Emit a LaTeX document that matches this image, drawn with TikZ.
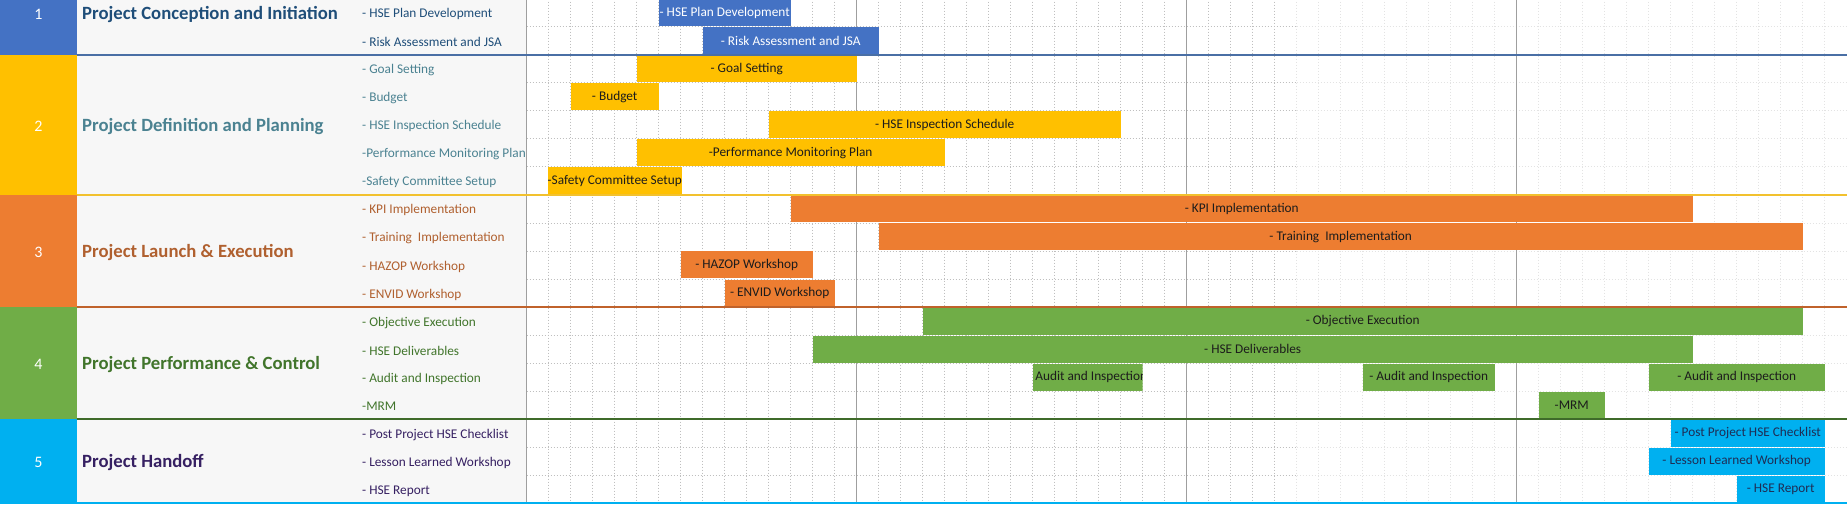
\documentclass[tikz,border=0pt]{standalone}
\usepackage{fontspec}
\setmainfont{Carlito}
\definecolor{phaseblue}{HTML}{4472C4}
\definecolor{phasegold}{HTML}{FFC000}
\definecolor{phaseorange}{HTML}{ED7D31}
\definecolor{phasegreen}{HTML}{70AD47}
\definecolor{phasecyan}{HTML}{00B0F0}
\definecolor{textblue}{HTML}{1F4E79}
\definecolor{textteal}{HTML}{4B8291}
\definecolor{textbrown}{HTML}{B0602F}
\definecolor{textgreen}{HTML}{41752B}
\definecolor{textpurple}{HTML}{362062}
\definecolor{lineblue}{HTML}{4A6FA5}
\definecolor{linegold}{HTML}{F2C12E}
\definecolor{linebrown}{HTML}{C0622B}
\definecolor{linegreen}{HTML}{3F6B2A}
\definecolor{panelgray}{HTML}{F7F7F7}
\definecolor{bardark}{HTML}{1C1C1C}
\definecolor{barnavy}{HTML}{1F2D55}

\begin{document}
\begin{tikzpicture}[x=1pt, y=-28.05pt,
    phasenum/.style={inner sep=0pt, yshift=-1.5pt, text=white,
      font=\fontsize{16}{19}\selectfont},
    phasename/.style={anchor=west, inner sep=0pt, yshift=-1.5pt,
      font=\bfseries\fontsize{18.7}{22}\selectfont},
    task/.style={anchor=west, inner sep=0pt, yshift=-1.5pt,
      font=\fontsize{13.3}{16}\selectfont},
    bar/.style={rectangle, inner sep=0pt, minimum height=27pt,
      minimum width=#1*22pt, font=\fontsize{13.3}{16}\selectfont},
    planbar/.style={bar=#1, fill=phaseblue, text=white},
    defbar/.style={bar=#1, fill=phasegold, text=bardark},
    launchbar/.style={bar=#1, fill=phaseorange, text=bardark},
    perfbar/.style={bar=#1, fill=phasegreen, text=bardark},
    handbar/.style={bar=#1, fill=phasecyan, text=barnavy},
    minorgrid/.style={gray!50, line width=0.7pt, dash pattern=on 1pt off 2pt},
    fadegrid/.style={gray!22, line width=0.7pt, dash pattern=on 1pt off 2pt},
    majorgrid/.style={gray!75, line width=1pt},
    divider/.style={line width=2pt}
  ]
    \useasboundingbox (0,0.0535) rectangle (1847,18.093);

    % Fondo
    \fill[panelgray] (76.7,0) rectangle (526.7,18);
    \fill[phaseblue] (0,0) rectangle (76.7,2);
    \fill[phasegold] (0,2) rectangle (76.7,7);
    \fill[phaseorange] (0,7) rectangle (76.7,11);
    \fill[phasegreen] (0,11) rectangle (76.7,15);
    \fill[phasecyan] (0,15) rectangle (76.7,18);

    % Rejilla
    \begin{scope}[shift={(526.7,0)}, x=22pt]
      \foreach \c in {1,...,34} \draw[minorgrid] (\c,0) -- (\c,18);
      \foreach \c in {35,...,59} \draw[fadegrid] (\c,0) -- (\c,18);
      \foreach \r in {1,...,17} {
        \draw[minorgrid] (0,\r) -- (35,\r);
        \draw[fadegrid] (35,\r) -- (60,\r);
      }
      \foreach \c in {0,15,30,45} \draw[majorgrid] (\c,0) -- (\c,18);

      % Barras
      \node[planbar=6] (bPlan) at (9,0.5) {- HSE Plan Development};
      \node[planbar=8] (bRisk) at (12,1.5) {- Risk Assessment and JSA};
      \node[defbar=10] (bGoal) at (10,2.5) {- Goal Setting};
      \node[defbar=4] (bBudget) at (4,3.5) {- Budget};
      \node[defbar=16] (bInspection) at (19,4.5) {- HSE Inspection Schedule};
      \node[defbar=14] (bMonitoring) at (12,5.5) {-Performance Monitoring Plan};
      \node[defbar=6] (bSafety) at (4,6.5) {-Safety Committee Setup};
      \node[launchbar=41] (bKpi) at (32.5,7.5) {- KPI Implementation};
      \node[launchbar=42] (bTraining) at (37,8.5) {- Training~ Implementation};
      \node[launchbar=6] (bHazop) at (10,9.5) {- HAZOP Workshop};
      \node[launchbar=5] (bEnvid) at (11.5,10.5) {- ENVID Workshop};
      \node[perfbar=40] (bObjective) at (38,11.5) {- Objective Execution};
      \node[perfbar=40] (bDeliverables) at (33,12.5) {- HSE Deliverables};
      \begin{scope}
        \clip (23,13) rectangle (28,14);
        \node[perfbar=5] (bAuditA) at (25.5,13.5)
          {\makebox[0pt]{- Audit and Inspection}};
      \end{scope}
      \node[perfbar=6] (bAuditB) at (41,13.5) {- Audit and Inspection};
      \node[perfbar=8] (bAuditC) at (55,13.5) {- Audit and Inspection};
      \node[perfbar=3] (bMrm) at (47.5,14.5) {-MRM};
      \node[handbar=7] (bChecklist) at (55.5,15.5) {- Post Project HSE Checklist};
      \node[handbar=8] (bLesson) at (55,16.5) {- Lesson Learned Workshop};
      \node[handbar=4] (bReport) at (57,17.5) {- HSE Report};
    \end{scope}

    % Fases
    \node[phasenum] (num1) at (38.35,0.5) {1};
    \node[phasenum] (num2) at (38.35,4.5) {2};
    \node[phasenum] (num3) at (38.35,9) {3};
    \node[phasenum] (num4) at (38.35,13) {4};
    \node[phasenum] (num5) at (38.35,16.5) {5};
    \node[phasename, text=textblue] (conception) at (82,0.5)
      {Project Conception and Initiation};
    \node[phasename, text=textteal] (definition) at (82,4.5)
      {Project Definition and Planning};
    \node[phasename, text=textbrown] (launch) at (82,9)
      {Project Launch \& Execution};
    \node[phasename, text=textgreen] (performance) at (82,13)
      {Project Performance \& Control};
    \node[phasename, text=textpurple] (handoff) at (82,16.5)
      {Project Handoff};

    % Tareas
    \node[task, text=textblue] (tPlan) at (362,0.5) {- HSE Plan Development};
    \node[task, text=textblue] (tRisk) at (362,1.5) {- Risk Assessment and JSA};
    \node[task, text=textteal] (tGoal) at (362,2.5) {- Goal Setting};
    \node[task, text=textteal] (tBudget) at (362,3.5) {- Budget};
    \node[task, text=textteal] (tInspection) at (362,4.5) {- HSE Inspection Schedule};
    \node[task, text=textteal] (tMonitoring) at (362,5.5) {-Performance Monitoring Plan};
    \node[task, text=textteal] (tSafety) at (362,6.5) {-Safety Committee Setup};
    \node[task, text=textbrown] (tKpi) at (362,7.5) {- KPI Implementation};
    \node[task, text=textbrown] (tTraining) at (362,8.5) {- Training~ Implementation};
    \node[task, text=textbrown] (tHazop) at (362,9.5) {- HAZOP Workshop};
    \node[task, text=textbrown] (tEnvid) at (362,10.5) {- ENVID Workshop};
    \node[task, text=textgreen] (tObjective) at (362,11.5) {- Objective Execution};
    \node[task, text=textgreen] (tDeliverables) at (362,12.5) {- HSE Deliverables};
    \node[task, text=textgreen] (tAudit) at (362,13.5) {- Audit and Inspection};
    \node[task, text=textgreen] (tMrm) at (362,14.5) {-MRM};
    \node[task, text=textpurple] (tChecklist) at (362,15.5) {- Post Project HSE Checklist};
    \node[task, text=textpurple] (tLesson) at (362,16.5) {- Lesson Learned Workshop};
    \node[task, text=textpurple] (tReport) at (362,17.5) {- HSE Report};

    % Separadores
    \draw[divider, lineblue] (76.7,2) -- (1847,2);
    \draw[divider, linegold] (76.7,7) -- (1847,7);
    \draw[divider, linebrown] (76.7,11) -- (1847,11);
    \draw[divider, linegreen] (76.7,15) -- (1847,15);
    \draw[divider, phasecyan] (0,18) -- (1847,18);
  \end{tikzpicture}
\end{document}
